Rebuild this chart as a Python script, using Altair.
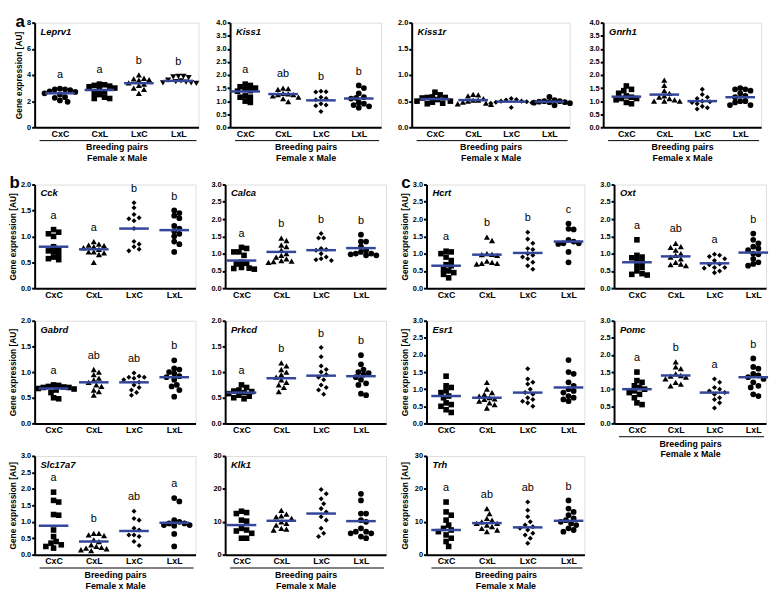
import math
import altair as alt
import pandas as pd

FONT = "Liberation Sans"
BLUE = "#33469a"
GROUPS = ["CxC", "CxL", "LxC", "LxL"]
SHAPES_STD = ["square", "triangle-up", "diamond", "circle"]
SHAPES_LEPRV1 = ["circle", "square", "triangle-up", "triangle-down"]
SYMBOL_SIZE = {"square": 32, "triangle-up": 38, "triangle-down": 38, "diamond": 26, "circle": 34}
YTITLE = "Gene expression [AU]"
XTITLE = ["Breeding pairs", "Female x Male"]

# ---------------- data ----------------
LEPRV1 = [[2.95, 2.9, 2.9, 2.85, 2.75, 2.7, 2.6, 2.5, 2.3, 2.25, 2.05, 1.95],
          [3.3, 3.25, 3.2, 3.15, 3.1, 3.0, 2.9, 2.7, 2.6, 2.5, 2.3, 2.2, 2.2],
          [4.0, 3.75, 3.7, 3.65, 3.6, 3.4, 3.3, 3.2, 3.0, 2.9, 2.6],
          [3.9, 3.9, 3.85, 3.8, 3.6, 3.55, 3.5, 3.45, 3.4, 3.4, 3.35]]
LEPRV1_MEAN = [2.6, 2.85, 3.37, 3.55]
LEPRV1_SIG = ["a", "a", "b", "b"]

KISS1 = [[1.65, 1.6, 1.55, 1.5, 1.45, 1.4, 1.38, 1.2, 1.15, 1.15, 1.0, 0.95],
         [1.5, 1.48, 1.45, 1.3, 1.28, 1.25, 1.25, 1.2, 1.15, 1.1, 0.98],
         [1.38, 1.36, 1.35, 1.15, 1.1, 1.05, 0.9, 0.85, 0.82, 0.6],
         [1.6, 1.5, 1.3, 1.15, 1.12, 1.1, 0.95, 0.9, 0.85, 0.8, 0.75]]
KISS1_MEAN = [1.37, 1.27, 1.03, 1.1]
KISS1_SIG = ["a", "ab", "b", "b"]

KISS1R = [[0.67, 0.62, 0.58, 0.57, 0.57, 0.56, 0.53, 0.5, 0.5, 0.48, 0.46, 0.45],
          [0.63, 0.62, 0.6, 0.55, 0.52, 0.52, 0.5, 0.48, 0.46, 0.45, 0.44],
          [0.55, 0.53, 0.52, 0.5, 0.5, 0.49, 0.48, 0.47, 0.46, 0.38],
          [0.58, 0.52, 0.5, 0.5, 0.49, 0.48, 0.48, 0.47, 0.46, 0.42]]
KISS1R_MEAN = [0.54, 0.52, 0.49, 0.49]

GNRH1 = [[1.58, 1.45, 1.4, 1.3, 1.2, 1.15, 1.1, 1.1, 1.05, 0.95, 0.9],
         [1.8, 1.6, 1.4, 1.3, 1.2, 1.15, 1.1, 1.05, 1.0, 1.0, 1.0],
         [1.45, 1.25, 1.15, 1.1, 1.0, 0.98, 0.95, 0.9, 0.8, 0.75, 0.7],
         [1.5, 1.45, 1.45, 1.4, 1.3, 1.2, 1.15, 1.0, 1.0, 0.95, 0.85, 0.85]]
GNRH1_MEAN = [1.17, 1.25, 1.0, 1.15]

CCK = [[1.13, 1.08, 1.05, 1.0, 0.8, 0.75, 0.72, 0.7, 0.65, 0.6, 0.57, 0.55],
       [0.9, 0.85, 0.83, 0.82, 0.8, 0.78, 0.75, 0.7, 0.7, 0.68, 0.65, 0.5],
       [1.65, 1.55, 1.42, 1.36, 1.34, 1.3, 1.15, 0.9, 0.85, 0.8, 0.75, 0.72],
       [1.5, 1.45, 1.4, 1.35, 1.2, 1.15, 1.1, 1.05, 1.0, 0.9, 0.85, 0.7]]
CCK_MEAN = [0.8, 0.75, 1.15, 1.12]
CCK_SIG = ["a", "a", "b", "b"]

CALCA = [[1.18, 1.15, 1.05, 1.05, 0.95, 0.75, 0.72, 0.7, 0.6, 0.58, 0.57, 0.55],
         [1.45, 1.38, 1.25, 1.2, 1.1, 1.0, 0.95, 0.9, 0.85, 0.8, 0.78, 0.77, 0.75],
         [1.58, 1.45, 1.45, 1.15, 1.12, 1.1, 1.0, 0.9, 0.85, 0.82, 0.8],
         [1.55, 1.35, 1.35, 1.2, 1.1, 1.05, 1.0, 1.0, 0.98, 0.95, 0.95]]
CALCA_MEAN = [0.8, 1.05, 1.1, 1.16]
CALCA_SIG = ["a", "b", "b", "b"]

HCRT = [[1.07, 1.05, 1.0, 0.9, 0.8, 0.68, 0.65, 0.55, 0.5, 0.45, 0.4, 0.3],
        [1.48, 1.38, 1.0, 0.98, 0.97, 0.95, 0.78, 0.75, 0.72, 0.72, 0.7],
        [1.62, 1.42, 1.3, 1.15, 1.12, 1.0, 0.95, 0.9, 0.85, 0.75, 0.65, 0.55],
        [1.87, 1.72, 1.7, 1.4, 1.35, 1.3, 1.3, 1.28, 1.05, 0.75]]
HCRT_MEAN = [0.65, 0.97, 1.02, 1.35]
HCRT_SIG = ["a", "b", "b", "c"]

OXT = [[1.4, 0.95, 0.9, 0.88, 0.8, 0.75, 0.65, 0.6, 0.5, 0.42, 0.4, 0.38],
       [1.3, 1.2, 1.18, 1.1, 1.0, 0.95, 0.9, 0.85, 0.75, 0.7, 0.68, 0.65],
       [0.98, 0.95, 0.92, 0.85, 0.8, 0.7, 0.68, 0.6, 0.6, 0.58, 0.5, 0.45],
       [1.58, 1.4, 1.3, 1.2, 1.15, 1.1, 1.0, 0.98, 0.85, 0.75, 0.7, 0.65]]
OXT_MEAN = [0.75, 0.92, 0.72, 1.03]
OXT_SIG = ["a", "ab", "a", "b"]

GABRD = [[0.75, 0.74, 0.72, 0.71, 0.7, 0.7, 0.68, 0.67, 0.65, 0.6, 0.5, 0.48],
         [1.05, 1.0, 0.95, 0.88, 0.85, 0.8, 0.75, 0.72, 0.65, 0.62, 0.55],
         [0.98, 0.92, 0.9, 0.9, 0.88, 0.85, 0.8, 0.75, 0.7, 0.65, 0.6, 0.55],
         [1.23, 1.07, 1.05, 1.0, 0.97, 0.92, 0.9, 0.85, 0.75, 0.72, 0.65, 0.52]]
GABRD_MEAN = [0.68, 0.8, 0.8, 0.9]
GABRD_SIG = ["a", "ab", "ab", "b"]

PRKCD = [[0.75, 0.7, 0.65, 0.63, 0.62, 0.6, 0.58, 0.55, 0.53, 0.5, 0.48],
         [1.18, 1.12, 1.05, 1.0, 0.95, 0.9, 0.85, 0.8, 0.75, 0.7, 0.62],
         [1.48, 1.3, 1.12, 1.05, 1.0, 0.95, 0.9, 0.85, 0.75, 0.7, 0.65, 0.57],
         [1.33, 1.15, 1.05, 1.0, 0.98, 0.95, 0.9, 0.85, 0.78, 0.75, 0.58, 0.55]]
PRKCD_MEAN = [0.6, 0.88, 0.93, 0.92]
PRKCD_SIG = ["a", "b", "b", "b"]

ESR1 = [[1.38, 1.1, 1.05, 0.95, 0.9, 0.8, 0.75, 0.6, 0.55, 0.5, 0.4, 0.32],
        [1.2, 1.0, 0.9, 0.85, 0.8, 0.75, 0.72, 0.7, 0.65, 0.6, 0.55, 0.45],
        [1.6, 1.3, 1.2, 1.15, 1.0, 0.9, 0.85, 0.75, 0.7, 0.65, 0.6, 0.5],
        [1.85, 1.5, 1.45, 1.2, 1.1, 1.0, 0.95, 0.9, 0.8, 0.75, 0.7, 0.65]]
ESR1_MEAN = [0.8, 0.75, 0.9, 1.05]

POMC = [[1.5, 1.25, 1.2, 1.1, 1.05, 1.0, 0.95, 0.9, 0.85, 0.75, 0.6, 0.55],
        [1.8, 1.65, 1.6, 1.45, 1.4, 1.38, 1.35, 1.3, 1.2, 1.15, 1.1],
        [1.3, 1.2, 1.05, 1.0, 0.95, 0.9, 0.85, 0.75, 0.7, 0.6, 0.45],
        [1.9, 1.65, 1.6, 1.45, 1.4, 1.35, 1.3, 1.2, 1.1, 1.05, 0.85, 0.8]]
POMC_MEAN = [1.0, 1.4, 0.9, 1.35]
POMC_SIG = ["a", "b", "a", "b"]

SLC17A7 = [[1.9, 1.65, 1.6, 1.22, 1.2, 0.75, 0.55, 0.4, 0.35, 0.3, 0.25, 0.2],
           [0.65, 0.65, 0.6, 0.58, 0.45, 0.4, 0.3, 0.25, 0.22, 0.2, 0.18, 0.15, 0.12],
           [1.32, 1.1, 1.05, 0.8, 0.75, 0.6, 0.6, 0.55, 0.4, 0.28],
           [1.72, 1.62, 1.05, 1.0, 0.95, 0.95, 0.9, 0.9, 0.88, 0.63, 0.25]]
SLC17A7_MEAN = [0.88, 0.4, 0.72, 0.97]
SLC17A7_SIG = ["a", "b", "ab", "a"]

KLK1 = [[13.2, 12.8, 12.5, 10.5, 10.2, 8.0, 7.5, 7.2, 6.5, 5.0, 5.0],
        [13.5, 12.3, 11.8, 11.5, 11.0, 10.0, 9.5, 9.0, 8.0, 7.8, 7.5],
        [19.8, 18.5, 17.0, 15.5, 14.0, 13.0, 11.5, 10.5, 8.0, 6.5, 5.5],
        [18.5, 16.5, 12.5, 12.5, 10.5, 10.0, 8.0, 7.0, 7.0, 6.5, 6.5, 5.5, 5.0]]
KLK1_MEAN = [9.0, 10.3, 12.5, 10.2]

TRH = [[16.0, 13.0, 12.0, 10.5, 9.0, 8.0, 7.5, 7.0, 6.0, 5.0, 4.0, 2.5],
       [14.0, 12.5, 11.0, 10.5, 10.0, 9.5, 9.5, 9.0, 8.5, 8.0, 7.5, 7.0],
       [16.0, 13.5, 11.5, 10.0, 9.0, 8.5, 8.0, 7.5, 6.5, 6.0, 5.0, 3.5],
       [16.5, 14.0, 13.0, 12.0, 11.0, 10.5, 10.0, 9.5, 9.0, 8.0, 7.5, 7.0]]
TRH_MEAN = [7.5, 9.6, 8.3, 10.3]
TRH_SIG = ["a", "ab", "ab", "b"]

PANELS = {
    "Leprv1": dict(vals=LEPRV1, mean=LEPRV1_MEAN, sig=LEPRV1_SIG, ymax=8, ystep=2, shapes=SHAPES_LEPRV1),
    "Kiss1": dict(vals=KISS1, mean=KISS1_MEAN, sig=KISS1_SIG, ymax=4, ystep=0.5, shapes=SHAPES_STD),
    "Kiss1r": dict(vals=KISS1R, mean=KISS1R_MEAN, sig=None, ymax=2, ystep=0.5, shapes=SHAPES_STD),
    "Gnrh1": dict(vals=GNRH1, mean=GNRH1_MEAN, sig=None, ymax=4, ystep=0.5, shapes=SHAPES_STD),
    "Cck": dict(vals=CCK, mean=CCK_MEAN, sig=CCK_SIG, ymax=2, ystep=0.5, shapes=SHAPES_STD),
    "Calca": dict(vals=CALCA, mean=CALCA_MEAN, sig=CALCA_SIG, ymax=3, ystep=0.5, shapes=SHAPES_STD),
    "Hcrt": dict(vals=HCRT, mean=HCRT_MEAN, sig=HCRT_SIG, ymax=3, ystep=0.5, shapes=SHAPES_STD),
    "Oxt": dict(vals=OXT, mean=OXT_MEAN, sig=OXT_SIG, ymax=3, ystep=0.5, shapes=SHAPES_STD),
    "Gabrd": dict(vals=GABRD, mean=GABRD_MEAN, sig=GABRD_SIG, ymax=2, ystep=0.5, shapes=SHAPES_STD),
    "Prkcd": dict(vals=PRKCD, mean=PRKCD_MEAN, sig=PRKCD_SIG, ymax=2, ystep=0.5, shapes=SHAPES_STD),
    "Esr1": dict(vals=ESR1, mean=ESR1_MEAN, sig=None, ymax=3, ystep=0.5, shapes=SHAPES_STD),
    "Pomc": dict(vals=POMC, mean=POMC_MEAN, sig=POMC_SIG, ymax=3, ystep=0.5, shapes=SHAPES_STD),
    "Slc17a7": dict(vals=SLC17A7, mean=SLC17A7_MEAN, sig=SLC17A7_SIG, ymax=3, ystep=0.5, shapes=SHAPES_STD),
    "Klk1": dict(vals=KLK1, mean=KLK1_MEAN, sig=None, ymax=30, ystep=10, shapes=SHAPES_STD),
    "Trh": dict(vals=TRH, mean=TRH_MEAN, sig=TRH_SIG, ymax=30, ystep=10, shapes=SHAPES_STD),
}

# ---------------- layout ----------------
E_STD = 15
TITLE_FS = 8.5
TITLE_PAD = 2


def swarm_offsets(vals, ypx, xpx, d=5.2, step=2.6):
    """Deterministic beeswarm: spread points sideways so they do not overlap."""
    order = sorted(range(len(vals)), key=lambda k: -vals[k])
    placed = []
    offs = [0.0] * len(vals)
    for k in order:
        y = vals[k] * ypx
        j = 0
        while True:
            m = (j + 1) // 2
            cand = m * step * (1 if j % 2 == 1 else -1)
            if all(math.hypot(cand - px, y - py) >= d for px, py in placed):
                break
            j += 1
        placed.append((cand, y))
        offs[k] = cand / xpx
    return offs


def make_panel(name, W, H, dom, ytitle, xtitle, letter, extent=E_STD):
    p = PANELS[name]
    ymax, ystep = p["ymax"], p["ystep"]
    xpx = W / (dom[1] - dom[0])
    ypx = H / ymax
    rows = []
    for gi, vals in enumerate(p["vals"]):
        offs = swarm_offsets(vals, ypx, xpx)
        shp = p["shapes"][gi]
        for v, o in zip(vals, offs):
            rows.append({"x": gi + o, "y": v, "shape": shp, "size": SYMBOL_SIZE[shp]})
    pts_df = pd.DataFrame(rows)
    half = 15.0 / xpx
    mean_df = pd.DataFrame({"x": [i - half for i in range(4)],
                            "x2": [i + half for i in range(4)],
                            "y": p["mean"]})

    nt = int(round(ymax / ystep))
    yvals = [round(k * ystep, 3) for k in range(nt + 1)]
    fmt = "d" if ystep >= 1 else ".1f"
    lab_expr = "[" + ",".join("'%s'" % g for g in GROUPS) + "][datum.value]"

    xaxis_kw = dict(values=[0, 1, 2, 3], tickCount=4, labelExpr=lab_expr, ticks=False, grid=False,
                    labelPadding=2, labelFontSize=9, labelFontWeight="bold", labelColor="black",
                    labelFont=FONT, labelFlush=False, labelOverlap=False,
                    domainWidth=2, domainColor="black")
    if xtitle:
        xaxis = alt.Axis(title=XTITLE, titleFontSize=9, titleFontWeight="bold", titleFont=FONT,
                         titleColor="black", titlePadding=5, titleLineHeight=11, **xaxis_kw)
    else:
        xaxis = alt.Axis(title=None, **xaxis_kw)
    yaxis_kw = dict(values=yvals, tickCount=len(yvals), format=fmt, grid=False, tickSize=3,
                    tickWidth=2, tickColor="black",
                    labelPadding=1, labelFontSize=7.5, labelFontWeight="bold", labelColor="black",
                    labelFont=FONT, labelFlush=False, labelOverlap=False,
                    domainWidth=2, domainColor="black", minExtent=extent, maxExtent=extent)
    if ytitle:
        yaxis = alt.Axis(title=YTITLE, titleFontSize=TITLE_FS, titleFontWeight="bold", titleFont=FONT,
                         titleColor="black", titlePadding=TITLE_PAD, **yaxis_kw)
    else:
        yaxis = alt.Axis(title=None, **yaxis_kw)

    xs = alt.Scale(domain=list(dom), nice=False, zero=False)
    ys = alt.Scale(domain=[0, ymax], nice=False)
    X = lambda f: alt.X(f, scale=xs, axis=xaxis)
    Y = lambda f: alt.Y(f, scale=ys, axis=yaxis)

    points = alt.Chart(pts_df).mark_point(filled=True, color="black", opacity=1, strokeWidth=0).encode(
        x=X("x:Q"), y=Y("y:Q"),
        shape=alt.Shape("shape:N", scale=None),
        size=alt.Size("size:Q", scale=None),
    )
    means = alt.Chart(mean_df).mark_rule(color=BLUE, strokeWidth=2.5).encode(
        x=X("x:Q"), x2="x2:Q", y=Y("y:Q"))
    layers = [points, means]
    if p["sig"]:
        sig_df = pd.DataFrame({"x": list(range(4)), "y": [max(v) for v in p["vals"]], "t": p["sig"]})
        layers.append(alt.Chart(sig_df).mark_text(dy=-14, fontSize=11, font=FONT, color="black",
                                                  baseline="middle").encode(
            x=X("x:Q"), y=Y("y:Q"), text="t:N"))
    name_df = pd.DataFrame({"t": [name]})
    layers.append(alt.Chart(name_df).mark_text(align="left", baseline="middle", fontSize=9.5,
                                               fontStyle="italic", fontWeight="bold", font=FONT,
                                               color="black").encode(
        x=alt.value(6), y=alt.value(9), text="t:N"))
    gutter = extent + ((TITLE_PAD + TITLE_FS) if ytitle else 0)
    let_df = pd.DataFrame({"t": [letter if letter else "a"]})
    layers.append(alt.Chart(let_df).mark_text(align="left", baseline="alphabetic", fontSize=17,
                                              fontWeight="bold", font=FONT, color="black",
                                              opacity=1 if letter else 0).encode(
        x=alt.value(-gutter), y=alt.value(4), text="t:N"))
    if xtitle:
        layers.append(alt.Chart(name_df).mark_rule(color="black", strokeWidth=1).encode(
            x=alt.value(5), x2=alt.value(W - 2), y=alt.value(H + 13.5)))
    return alt.layer(*layers).properties(width=W, height=H)


ROW1_H = 106
row1 = alt.hconcat(
    make_panel("Leprv1", 166, ROW1_H, (-0.64, 3.51), True, True, "a", extent=9),
    make_panel("Kiss1", 153, ROW1_H, (-0.40, 3.59), False, True, None),
    make_panel("Kiss1r", 160, ROW1_H, (-0.61, 3.53), False, True, None),
    make_panel("Gnrh1", 160, ROW1_H, (-0.61, 3.55), False, True, None),
    spacing=14,
)

COLS = [["Cck", "Gabrd", "Slc17a7"], ["Calca", "Prkcd", "Klk1"], ["Hcrt", "Esr1", "Trh"], ["Oxt", "Pomc"]]
COL_W = [163, 163, 160, 154]
COL_DOM = [(-0.47, 3.53), (-0.41, 3.63), (-0.48, 3.39), (-0.59, 3.33)]
COL_YT = [True, False, True, False]
ROW_H = [105, 104, 100]
LETTERS = {"Cck": "b", "Hcrt": "c"}

cols = []
for ci, names in enumerate(COLS):
    panels = []
    for ri, nm in enumerate(names):
        panels.append(make_panel(nm, COL_W[ci], ROW_H[ri], COL_DOM[ci], COL_YT[ci],
                                 ri == len(names) - 1, LETTERS.get(nm)))
    cols.append(alt.vconcat(*panels, spacing=10))
lower = alt.hconcat(*cols, spacing=13)

chart = alt.vconcat(row1, lower, spacing=10).properties(padding=0).configure_view(
    stroke=None).configure_axis(labelOverlap=False).configure(font=FONT)

chart.save("out.html", embed_options={"renderer": "svg", "actions": False})
